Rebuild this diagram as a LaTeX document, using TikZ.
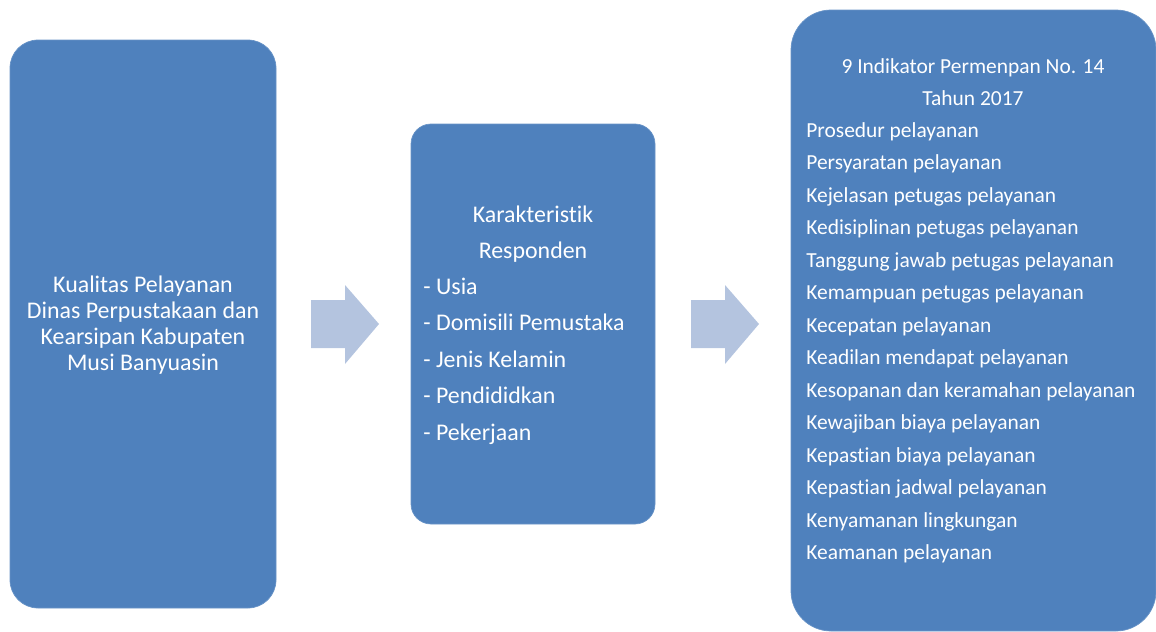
\documentclass[tikz,border=0pt]{standalone}
\usepackage{fontspec}
\setmainfont{Carlito}[Ligatures=NoCommon]
\definecolor{boxblue}{RGB}{79,129,189}
\definecolor{arrowblue}{RGB}{180,196,223}
\tikzset{
  panel/.style={fill=boxblue, draw=boxblue!85!white, line width=0.4pt},
  txt/.style={text=white, font=\fontsize{13.6}{16}\selectfont, inner sep=0pt},
  smalltxt/.style={txt, font=\fontsize{12.2}{14}\selectfont},
  blockarrow/.style={fill=arrowblue}
}

\begin{document}
\begin{tikzpicture}[x=0.02cm, y=-0.02cm]
      \useasboundingbox (0,0) rectangle (1156,632);

      % panels
      \draw[panel, rounded corners=0.56cm] (10,40) rectangle (276,608);
      \draw[panel, rounded corners=0.4cm] (411,124) rectangle (655,524);
      \draw[panel, rounded corners=0.8cm] (791,10) rectangle (1156,631);

      % block arrows
      \foreach \dx in {0,380} {
        \fill[blockarrow] (311+\dx,300) -- (345+\dx,300) -- (345+\dx,285) -- (379+\dx,324)
          -- (345+\dx,364) -- (345+\dx,348) -- (311+\dx,348) -- cycle;
      }

      % left panel
      \node[txt, anchor=base] (kual1) at (143,292) {Kualitas Pelayanan};
      \node[txt, anchor=base] (kual2) at (143,318) {Dinas Perpustakaan dan};
      \node[txt, anchor=base] (kual3) at (143,344) {Kearsipan Kabupaten};
      \node[txt, anchor=base] (kual4) at (143,370) {Musi Banyuasin};

      % middle panel
      \node[txt, anchor=base] (kar1) at (533,222) {Karakteristik};
      \node[txt, anchor=base] (kar2) at (533,258) {Responden};
      \foreach \item [count=\i] in {Usia, Domisili Pemustaka, Jenis Kelamin, Pendididkan, Pekerjaan}
        \node[txt, anchor=base west] (resp\i) at (423,{294+36.6*(\i-1)}) {- \item};

      % right panel
      \node[smalltxt, anchor=base] (ind1) at (973,73) {9 Indikator Permenpan No. 14};
      \node[smalltxt, anchor=base] (ind2) at (973,105) {Tahun 2017};
      \foreach \item [count=\i] in {Prosedur pelayanan, Persyaratan pelayanan,
          Kejelasan petugas pelayanan, Kedisiplinan petugas pelayanan,
          Tanggung jawab petugas pelayanan, Kemampuan petugas pelayanan,
          Kecepatan pelayanan, Keadilan mendapat pelayanan,
          Kesopanan dan keramahan pelayanan, Kewajiban biaya pelayanan,
          Kepastian biaya pelayanan, Kepastian jadwal pelayanan,
          Kenyamanan lingkungan, Keamanan pelayanan}
        \node[smalltxt, anchor=base west] (indi\i) at (806,{137+32.5*(\i-1)}) {\item};
\end{tikzpicture}
\end{document}
